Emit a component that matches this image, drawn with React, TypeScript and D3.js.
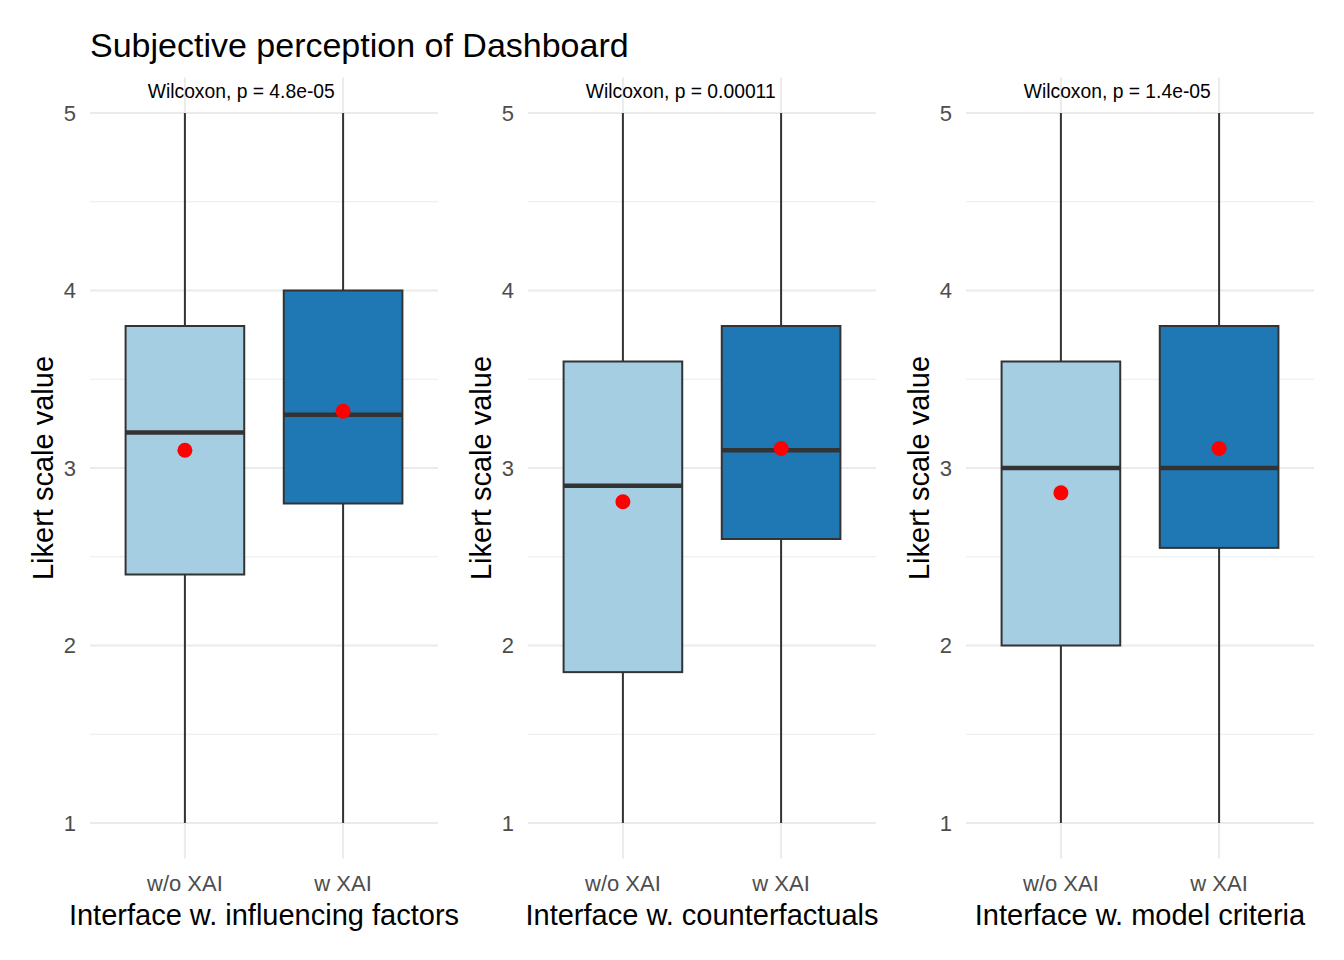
import * as d3 from "d3";

const WIDTH = 1344;
const HEIGHT = 960;

const groups = ["w/o XAI", "w XAI"];
const panels = ["Interface w. influencing factors", "Interface w. counterfactuals", "Interface w. model criteria"];
const pLabels = ["Wilcoxon, p = 4.8e-05", "Wilcoxon, p = 0.00011", "Wilcoxon, p = 1.4e-05"];

// per panel: [w/o XAI, w XAI]
const mins = [[1, 1], [1, 1], [1, 1]];
const q1s = [[2.4, 2.8], [1.85, 2.6], [2.0, 2.55]];
const medians = [[3.2, 3.3], [2.9, 3.1], [3.0, 3.0]];
const q3s = [[3.8, 4.0], [3.6, 3.8], [3.6, 3.8]];
const maxs = [[5, 5], [5, 5], [5, 5]];
const means = [[3.1, 3.32], [2.81, 3.11], [2.86, 3.11]];

const yTicks = [1, 2, 3, 4, 5];
const yMinor = [1.5, 2.5, 3.5, 4.5];

const fills = ["#A6CEE3", "#1F78B4"];
const font = "'Liberation Sans', Arial, sans-serif";

// panel left edges in px
const panelLeft = [90, 528, 966];
const panelWidth = 348;

export default function App() {
    const y = d3.scaleLinear().domain([0.8, 5.2]).range([858.5, 77.5]);

    return (
        <svg width={WIDTH} height={HEIGHT} style={{ position: "absolute", left: 0, top: 0, background: "#fff" }} fontFamily={font}>
            <text x={90} y={57} fontSize={34} fill="#000">
                Subjective perception of Dashboard
            </text>
            {panels.map((title, p) => {
                const x0 = panelLeft[p];
                const x = d3.scalePoint<string>().domain(groups).range([x0, x0 + panelWidth]).padding(0.6);
                const step = x.step();
                const bw = step * 0.75;
                const [yTop, yBot] = y.range().slice().reverse();
                const cx = x0 + panelWidth / 2;
                return (
                    <g key={title}>
                        {yMinor.map((t) => (
                            <line key={`m${t}`} x1={x0} x2={x0 + panelWidth} y1={y(t)} y2={y(t)} stroke="#EBEBEB" strokeWidth={1} />
                        ))}
                        {yTicks.map((t) => (
                            <line key={`M${t}`} x1={x0} x2={x0 + panelWidth} y1={y(t)} y2={y(t)} stroke="#EBEBEB" strokeWidth={2} />
                        ))}
                        {groups.map((g) => (
                            <line key={`v${g}`} x1={x(g)} x2={x(g)} y1={yTop} y2={yBot} stroke="#EBEBEB" strokeWidth={2} />
                        ))}
                        {yTicks.map((t) => (
                            <text key={`yt${t}`} x={x0 - 14} y={y(t)} dy="0.35em" textAnchor="end" fontSize={22} fill="#4D4D4D">
                                {t}
                            </text>
                        ))}
                        <text
                            transform={`translate(${x0 - 37},${(y(1) + y(5)) / 2}) rotate(-90)`}
                            textAnchor="middle"
                            fontSize={29}
                            fill="#000"
                        >
                            Likert scale value
                        </text>
                        {groups.map((g, i) => {
                            const gx = x(g) as number;
                            return (
                                <g key={g}>
                                    <line x1={gx} x2={gx} y1={y(maxs[p][i])} y2={y(q3s[p][i])} stroke="#333" strokeWidth={2} />
                                    <line x1={gx} x2={gx} y1={y(q1s[p][i])} y2={y(mins[p][i])} stroke="#333" strokeWidth={2} />
                                    <rect
                                        x={gx - bw / 2}
                                        y={y(q3s[p][i])}
                                        width={bw}
                                        height={y(q1s[p][i]) - y(q3s[p][i])}
                                        fill={fills[i]}
                                        stroke="#333"
                                        strokeWidth={2}
                                    />
                                    <line x1={gx - bw / 2} x2={gx + bw / 2} y1={y(medians[p][i])} y2={y(medians[p][i])} stroke="#333" strokeWidth={4.5} />
                                    <circle cx={gx} cy={y(means[p][i])} r={7.5} fill="#FF0000" />
                                    <text x={gx} y={891} textAnchor="middle" fontSize={22} fill="#4D4D4D">
                                        {g}
                                    </text>
                                </g>
                            );
                        })}
                        <text x={(x(groups[0]) as number) - step * 0.235} y={y(5.124)} dy="0.35em" fontSize={19.3} fill="#000">
                            {pLabels[p]}
                        </text>
                        <text x={cx} y={925} textAnchor="middle" fontSize={29} fill="#000">
                            {title}
                        </text>
                    </g>
                );
            })}
        </svg>
    );
}
